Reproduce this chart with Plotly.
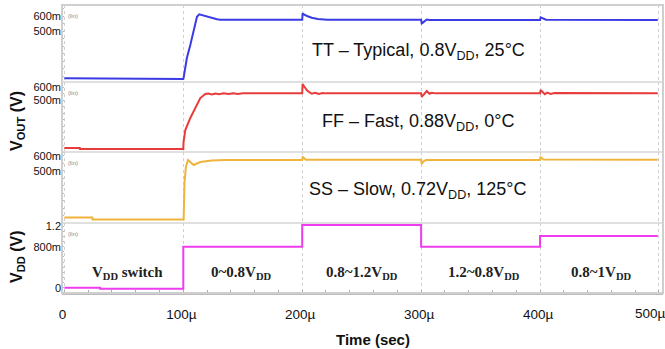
import plotly.graph_objects as go

# ---------------- data (time in microseconds, voltage in volts) ----------------
tt_time = [0, 13, 13.1, 100, 100.3, 101.1, 103, 105.9, 108.7, 111.5, 113.4, 117, 121.3, 125,
           128.3, 131.1, 200, 200.3, 201, 204, 208, 213, 221, 300, 300.5, 301.5, 303, 304.7,
           307, 400, 400.5, 402, 405, 499]
tt_vout = [0.185, 0.185, 0.18, 0.18, 0.19, 0.24, 0.32, 0.407, 0.507, 0.595, 0.611, 0.603, 0.589,
           0.582, 0.578, 0.575, 0.575, 0.618, 0.612, 0.600, 0.588, 0.580, 0.575, 0.575, 0.551,
           0.556, 0.568, 0.577, 0.574, 0.574, 0.591, 0.585, 0.575, 0.574]

ff_time = [0, 13, 13.1, 100, 100.2, 101.7, 105.9, 110.1, 114.3, 118.5, 121, 124, 127, 130, 134,
           138, 142, 146, 150, 200, 200.3, 202, 204, 206, 208, 211, 214, 217, 220, 300, 300.5,
           302, 304.7, 307, 309, 312, 400, 400.5, 402, 404, 406, 409, 412, 499]
ff_vout = [0.131, 0.131, 0.123, 0.123, 0.177, 0.269, 0.362, 0.438, 0.515, 0.546, 0.549, 0.543,
           0.550, 0.545, 0.552, 0.546, 0.551, 0.547, 0.551, 0.551, 0.623, 0.600, 0.575, 0.560,
           0.548, 0.556, 0.546, 0.554, 0.551, 0.551, 0.525, 0.540, 0.569, 0.548, 0.556, 0.551,
           0.551, 0.577, 0.560, 0.545, 0.557, 0.547, 0.553, 0.551]

ss_time = [0, 23.5, 23.6, 100, 100.3, 101, 102.2, 104, 108.7, 114.3, 120, 124, 135, 200, 200.4,
           203, 300, 300.5, 302, 304, 400, 400.4, 403, 499]
ss_vout = [0.188, 0.188, 0.175, 0.175, 0.175, 0.418, 0.527, 0.571, 0.538, 0.558, 0.565, 0.568,
           0.571, 0.571, 0.593, 0.573, 0.573, 0.546, 0.562, 0.571, 0.572, 0.590, 0.574, 0.573]

vdd_time = [0, 30, 100, 200, 300, 400, 499]
vdd_volt = [0, -0.02, 0.8, 1.22, 0.8, 1.01, 1.01]

x_tick_vals = [0, 100, 200, 300, 400, 500]
x_tick_text = ["0", "100µ", "200µ", "300µ", "400µ", ""]
last_tick_label = "500µ"

vout_tick_vals = [0.5, 0.6]
vout_tick_text = ["500m", "600m"]
vdd_tick_vals = [0, 0.8, 1.2]
vdd_tick_text = ["0", "800m", "1.2"]

panel_titles = ["TT – Typical, 0.8V<sub>DD</sub>, 25°C",
                "FF – Fast, 0.88V<sub>DD</sub>, 0°C",
                "SS – Slow, 0.72V<sub>DD</sub>, 125°C"]
phase_labels = ["V<sub>DD</sub> switch", "0~0.8V<sub>DD</sub>", "0.8~1.2V<sub>DD</sub>",
                "1.2~0.8V<sub>DD</sub>", "0.8~1V<sub>DD</sub>"]

# ---------------- layout geometry ----------------
W, H = 665, 349
ML, MR, MT, MB = 62, 2, 5, 56
PW, PH = W - ML - MR, H - MT - MB


def px(x):
    return (x - ML) / PW


def py(y):
    return (H - MB - y) / PH


bounds = [5, 82, 152, 223, 293]   # pixel rows of panel borders (top -> bottom)
domains = [[py(bounds[i + 1]), py(bounds[i])] for i in range(4)]
yranges = [[0.16, 0.6733], [0.10, 0.6385], [0.1513, 0.6247], [-0.103, 1.261]]
colors = ["#3b3be6", "#e83c3c", "#f0b33c", "#ee3cee"]

fig = go.Figure()
series = [(tt_time, tt_vout, "linear"), (ff_time, ff_vout, "linear"),
          (ss_time, ss_vout, "linear"), (vdd_time, vdd_volt, "hv")]
for i, (t, v, shape) in enumerate(series):
    fig.add_trace(go.Scatter(x=t, y=v, mode="lines", line=dict(color=colors[i], width=2, shape=shape),
                             xaxis="x" if i == 0 else f"x{i+1}", yaxis="y" if i == 0 else f"y{i+1}",
                             showlegend=False, hoverinfo="skip"))

tickfont = dict(family="Liberation Sans, Arial", size=11, color="#111")
layout = dict(width=W, height=H, margin=dict(l=ML, r=MR, t=MT, b=MB),
              paper_bgcolor="white", plot_bgcolor="white", showlegend=False)
for i in range(4):
    xk = "xaxis" if i == 0 else f"xaxis{i+1}"
    yk = "yaxis" if i == 0 else f"yaxis{i+1}"
    ya = "y" if i == 0 else f"y{i+1}"
    last = i == 3
    xa = dict(domain=[0, 1], anchor=ya, range=[-2.0, 503.4], tickvals=x_tick_vals,
              ticktext=x_tick_text, showticklabels=last, showgrid=True,
              gridcolor="#cfcfcf", griddash="dot", gridwidth=1, zeroline=False,
              ticks="", showline=last, linecolor="#bdbdbd", linewidth=1.5,
              ticklabelstandoff=8, ticklabelshift=-2,
              tickfont=dict(family="Liberation Sans, Arial", size=13.5, color="#111"))
    if last:
        xa["minor"] = dict(dtick=20, tick0=0, ticks="inside", ticklen=3, tickcolor="#aaaaaa",
                           showgrid=False)
    if i > 0:
        xa["matches"] = "x"
    layout[xk] = xa
    layout[yk] = dict(domain=domains[i], anchor="x" if i == 0 else f"x{i+1}",
                      range=yranges[i], showgrid=False, zeroline=False, ticks="",
                      tickvals=vdd_tick_vals if last else vout_tick_vals,
                      ticktext=vdd_tick_text if last else vout_tick_text,
                      tickfont=tickfont, showline=False,
                      minor=dict(dtick=0.05 if not last else 0.1, ticks="inside", ticklen=2,
                                 tickcolor="#b5b5b5"))
fig.update_layout(**layout)

shapes = [dict(type="rect", xref="paper", yref="paper", x0=0, x1=1, y0=0, y1=1,
               line=dict(color="#cfcfcf", width=2))]
for b in bounds[1:4]:
    shapes.append(dict(type="line", xref="paper", yref="paper", x0=0, x1=1, y0=py(b), y1=py(b),
                       line=dict(color="#d6d6d6", width=1.5)))
fig.update_layout(shapes=shapes)

ann = []
for i, yy in enumerate([52, 122, 191]):
    ann.append(dict(text=panel_titles[i], x=px(418), y=py(yy), xref="paper", yref="paper",
                    showarrow=False, xanchor="center", yanchor="middle",
                    font=dict(family="Liberation Sans, Arial", size=18, color="#111")))
phase_px = [127, 241, 362, 484, 601]
for lbl, xx in zip(phase_labels, phase_px):
    ann.append(dict(text="<b>" + lbl + "</b>", x=px(xx), y=py(273), xref="paper", yref="paper",
                    showarrow=False, xanchor="center", yanchor="middle",
                    font=dict(family="Liberation Serif, Times New Roman", size=15, color="#222")))
for b in bounds[:4]:
    ann.append(dict(text="(lin)", x=px(66), y=py(b + 11), xref="paper", yref="paper",
                    showarrow=False, xanchor="left", yanchor="middle",
                    font=dict(family="Liberation Sans", size=6, color="#888")))
ann.append(dict(text=last_tick_label, x=px(650), y=py(313), xref="paper", yref="paper",
                showarrow=False, xanchor="center", yanchor="middle",
                font=dict(family="Liberation Sans, Arial", size=13.5, color="#111")))
ann.append(dict(text="<b>V<sub>OUT</sub> (V)</b>", x=px(17), y=py(121), xref="paper", yref="paper",
                showarrow=False, textangle=-90, xanchor="center", yanchor="middle",
                font=dict(family="Liberation Sans, Arial", size=16, color="#111")))
ann.append(dict(text="<b>V<sub>DD</sub> (V)</b>", x=px(17), y=py(257), xref="paper", yref="paper",
                showarrow=False, textangle=-90, xanchor="center", yanchor="middle",
                font=dict(family="Liberation Sans, Arial", size=16, color="#111")))
ann.append(dict(text="<b>Time (sec)</b>", x=px(373), y=py(339), xref="paper", yref="paper",
                showarrow=False, xanchor="center", yanchor="middle",
                font=dict(family="Liberation Sans, Arial", size=15, color="#111")))
fig.update_layout(annotations=ann)

fig.write_html("out.html", config={"displayModeBar": False},
               post_script="document.body.style.margin='0';")
